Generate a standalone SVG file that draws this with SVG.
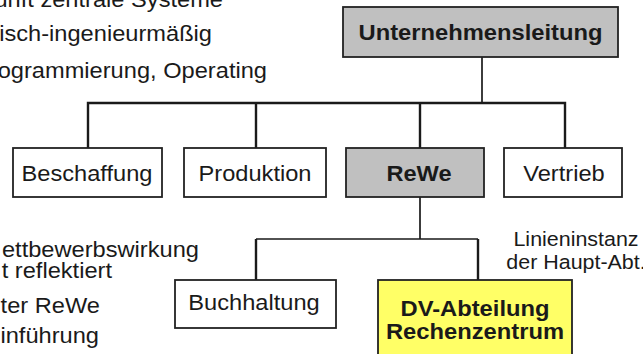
<svg xmlns="http://www.w3.org/2000/svg" width="643" height="354" viewBox="0 0 643 354">
<style>
.t{font-family:"Liberation Sans",Arial,sans-serif;font-size:22px;fill:#1a1a1a}
.b{font-weight:bold}
.box{stroke:#222;stroke-width:1.8}
.c{fill:none;stroke:#1a1a1a;stroke-width:2.4}
.thin{stroke-width:1.7}
</style>
<rect width="643" height="354" fill="#fff"/>
<g id="notes">
<text class="t" text-anchor="end" transform="translate(223,7) scale(1.075,1)">unft zentrale Systeme</text>
<text class="t" text-anchor="end" transform="translate(212,41) scale(1.075,1)">isch-ingenieurmäßig</text>
<text class="t" text-anchor="end" transform="translate(267,78) scale(1.075,1)">ogrammierung, Operating</text>
<text class="t" text-anchor="end" transform="translate(199,257) scale(1.075,1)">ettbewerbswirkung</text>
<text class="t" text-anchor="end" transform="translate(112,278) scale(1.075,1)">t reflektiert</text>
<text class="t" text-anchor="end" transform="translate(100,313) scale(1.075,1)">ter ReWe</text>
<text class="t" text-anchor="end" transform="translate(99,343) scale(1.075,1)">inführung</text>
<text class="t" text-anchor="middle" style="font-size:19.5px" transform="translate(576,246) scale(1.1,1)">Linieninstanz</text>
<text class="t" text-anchor="middle" style="font-size:19.5px" transform="translate(576,269) scale(1.1,1)">der Haupt-Abt.</text>
</g>
<g id="connectors">
<path class="c thin" d="M482,57V103"/>
<path class="c" d="M88,148V103H565V148M256,103V148M420,103V148"/>
<path class="c thin" d="M420,197V239M256,239H478"/>
<path class="c" d="M256,239V280M478,239V280"/>
</g>
<g id="unternehmensleitung">
<rect class="box" x="343" y="7" width="275" height="50" fill="#c0c0c0"/>
<text class="t b" text-anchor="middle" transform="translate(480.5,40) scale(1.08,1)">Unternehmensleitung</text>
</g>
<g id="beschaffung">
<rect class="box" x="13" y="148" width="149" height="49" fill="#fff"/>
<text class="t" text-anchor="middle" transform="translate(87,181) scale(1.075,1)">Beschaffung</text>
</g>
<g id="produktion">
<rect class="box" x="184" y="148" width="142" height="49" fill="#fff"/>
<text class="t" text-anchor="middle" transform="translate(255,181) scale(1.075,1)">Produktion</text>
</g>
<g id="rewe">
<rect class="box" x="346" y="148" width="138" height="49" fill="#c0c0c0"/>
<text class="t b" text-anchor="middle" transform="translate(419,181) scale(1.075,1)">ReWe</text>
</g>
<g id="vertrieb">
<rect class="box" x="504" y="148" width="118" height="49" fill="#fff"/>
<text class="t" text-anchor="middle" transform="translate(564,181) scale(1.075,1)">Vertrieb</text>
</g>
<g id="buchhaltung">
<rect class="box" x="175" y="280" width="161" height="48" fill="#fff"/>
<text class="t" text-anchor="middle" transform="translate(254,310) scale(1.075,1)">Buchhaltung</text>
</g>
<g id="dv-abteilung">
<rect class="box" x="378" y="280" width="194" height="90" fill="#ffff66"/>
<text class="t b" text-anchor="middle" transform="translate(475,316) scale(1.08,1)">DV-Abteilung</text>
<text class="t b" text-anchor="middle" transform="translate(475,339) scale(1.08,1)">Rechenzentrum</text>
</g>
</svg>
